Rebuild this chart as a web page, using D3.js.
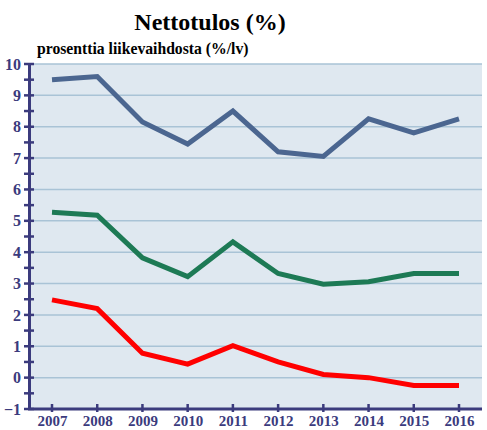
<!DOCTYPE html>
<html>
<head>
<meta charset="utf-8">
<script src="https://cdn.jsdelivr.net/npm/d3@7"></script>
<style>
  body { margin: 0; background: #fff; }
  svg { display: block; font-family: "Liberation Serif", "Times New Roman", serif; }
</style>
</head>
<body>
<svg id="chart"></svg>
<script>
// years along x axis
var years = [2007, 2008, 2009, 2010, 2011, 2012, 2013, 2014, 2015, 2016];
// series values (% of turnover)
var topSeries = [9.5, 9.6, 8.15, 7.45, 8.5, 7.2, 7.05, 8.25, 7.8, 8.25];
var midSeries = [5.27, 5.18, 3.82, 3.22, 4.33, 3.32, 2.98, 3.06, 3.32, 3.32];
var lowSeries = [2.48, 2.2, 0.78, 0.43, 1.02, 0.5, 0.1, 0.0, -0.25, -0.25];
var yTicks = [-1, 0, 1, 2, 3, 4, 5, 6, 7, 8, 9, 10];

var W = 487, H = 430;
var margin = {top: 64, right: 5, bottom: 21, left: 29};
var serif = "'Liberation Serif', 'Times New Roman', serif";

var svg = d3.select("#chart").attr("width", W).attr("height", H);

var x = d3.scaleLinear()
    .domain([2007, 2016])
    .range([52, 459]);
var y = d3.scaleLinear()
    .domain([-1, 10])
    .range([H - margin.bottom, margin.top]);

var axisCol = "#3b3b7d";

// plot background
svg.append("rect")
  .attr("x", margin.left).attr("y", margin.top)
  .attr("width", W - margin.right - margin.left)
  .attr("height", y(-1) - margin.top)
  .attr("fill", "#dfe8f0");

// horizontal gridlines
svg.selectAll(".grid")
  .data(yTicks.filter(function(d) { return d > -1; }))
  .enter().append("line")
    .attr("x1", margin.left).attr("x2", W - margin.right)
    .attr("y1", function(d) { return y(d); })
    .attr("y2", function(d) { return y(d); })
    .attr("stroke", "#a9c3d6")
    .attr("stroke-width", 1.5);

// lines
var line = d3.line()
    .x(function(d, i) { return x(years[i]); })
    .y(function(d) { return y(d); });

[[topSeries, "#4b6690"], [midSeries, "#1d7a55"], [lowSeries, "#ff0000"]].forEach(function(s) {
  svg.append("path")
    .datum(s[0])
    .attr("d", line)
    .attr("fill", "none")
    .attr("stroke", s[1])
    .attr("stroke-width", 5)
    .attr("stroke-linejoin", "miter");
});

// y axis
var yAxis = d3.axisLeft(y)
    .tickValues(yTicks)
    .tickSize(0)
    .tickPadding(8)
    .tickFormat(function(d) { return d < 0 ? "\u2212" + Math.abs(d) : d; });
var gy = svg.append("g")
    .attr("transform", "translate(" + margin.left + ",0)")
    .call(yAxis);
gy.select(".domain").attr("stroke", axisCol).attr("stroke-width", 3);
gy.selectAll("text")
    .attr("fill", axisCol)
    .style("font-size", "16px")
    .style("font-weight", "bold")
    .style("font-family", serif);

// ticks on y axis: major and half-step minor
var halfTicks = d3.range(-1, 10.01, 0.5);
svg.selectAll(".ytick")
  .data(halfTicks)
  .enter().append("line")
    .attr("x1", margin.left - 5).attr("x2", margin.left + 5)
    .attr("y1", function(d) { return y(d); })
    .attr("y2", function(d) { return y(d); })
    .attr("stroke", axisCol)
    .attr("stroke-width", 2.5);

// x axis
var xAxis = d3.axisBottom(x)
    .tickValues(years)
    .tickSize(0)
    .tickPadding(6)
    .tickFormat(d3.format("d"));
var gx = svg.append("g")
    .attr("transform", "translate(0," + y(-1) + ")")
    .call(xAxis);
gx.select(".domain").remove();
gx.selectAll("text")
    .attr("fill", axisCol)
    .style("font-size", "15px")
    .style("font-weight", "bold")
    .style("font-family", serif);

svg.append("line")
  .attr("x1", margin.left - 1).attr("x2", W - margin.right)
  .attr("y1", y(-1)).attr("y2", y(-1))
  .attr("stroke", axisCol).attr("stroke-width", 3);

svg.selectAll(".xtick")
  .data(years)
  .enter().append("line")
    .attr("x1", function(d) { return x(d); })
    .attr("x2", function(d) { return x(d); })
    .attr("y1", y(-1) - 5).attr("y2", y(-1) + 3)
    .attr("stroke", axisCol)
    .attr("stroke-width", 2.5);

// titles
svg.append("text")
  .attr("x", 210).attr("y", 30)
  .attr("text-anchor", "middle")
  .style("font-family", serif)
  .style("font-size", "24px")
  .style("font-weight", "bold")
  .text("Nettotulos (%)");

svg.append("text")
  .attr("x", 37).attr("y", 54)
  .style("font-family", serif)
  .style("font-size", "15.7px")
  .style("font-weight", "bold")
  .text("prosenttia liikevaihdosta (%/lv)");
</script>
</body>
</html>
